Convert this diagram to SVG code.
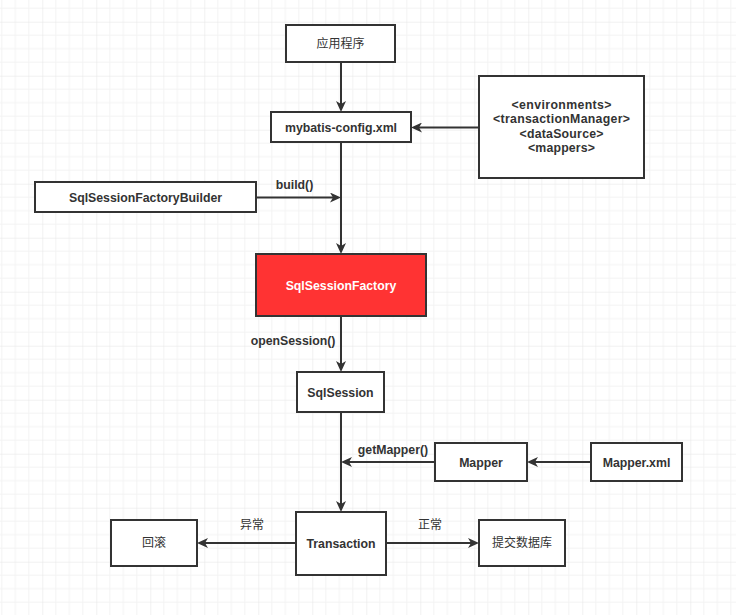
<svg xmlns="http://www.w3.org/2000/svg" width="736" height="615" viewBox="0 0 736 615">
<defs>
<pattern id="grid" patternUnits="userSpaceOnUse" x="42.3" y="21.7" width="54" height="54">
<path d="M13.5,0V54M27,0V54M40.5,0V54M0,13.5H54M0,27H54M0,40.5H54" stroke="#f3f3f3" stroke-width="1" fill="none"/>
<path d="M0,0V54M0,0H54" stroke="#e4e4e4" stroke-width="1" fill="none"/>
</pattern>
<marker id="arr" viewBox="0 0 11 10" refX="8" refY="5" markerWidth="11" markerHeight="10" markerUnits="userSpaceOnUse" orient="auto">
<path d="M0,0 L11,5 L0,10 L3,5 Z" fill="#333"/>
</marker>
</defs>
<style>
.n rect{fill:#fff;stroke:#333;stroke-width:2}
.t{font-family:"Liberation Sans","Noto Sans CJK SC",sans-serif;font-size:12.3px;font-weight:bold;fill:#333;text-anchor:middle}
.c{font-family:"Noto Sans CJK SC","Liberation Sans",sans-serif;font-size:12px;font-weight:normal;fill:#333;text-anchor:middle}
.e path{fill:none;stroke:#333;stroke-width:2;marker-end:url(#arr)}
</style>
<rect width="736" height="615" fill="#fff"/>
<rect width="736" height="615" fill="url(#grid)"/>
<g class="e" id="connectors">
<path d="M341,62V109"/>
<path d="M479,127.5H414"/>
<path d="M341,142V251"/>
<path d="M256,197.5H338"/>
<path d="M341,316V369"/>
<path d="M341,412V509"/>
<path d="M435,462H344"/>
<path d="M591,462H530"/>
<path d="M296,543H200"/>
<path d="M386,543H476"/>
<text class="t" x="294.5" y="189">build()</text>
<text class="t" x="293" y="345">openSession()</text>
<text class="t" x="393" y="454">getMapper()</text>
<text class="c" x="252" y="529">异常</text>
<text class="c" x="430" y="529">正常</text>
</g>
<g class="n" id="app"><rect x="286" y="25" width="109" height="37"/><text class="c" x="340.5" y="47.5">应用程序</text></g>
<g class="n" id="config"><rect x="271" y="112" width="140" height="30"/><text class="t" x="341" y="131.5">mybatis-config.xml</text></g>
<g class="n" id="envs"><rect x="479" y="76" width="165" height="102"/>
<text class="t" x="561.5" y="108.5" textLength="100" lengthAdjust="spacing">&lt;environments&gt;</text>
<text class="t" x="561.5" y="123" textLength="137" lengthAdjust="spacing">&lt;transactionManager&gt;</text>
<text class="t" x="561.5" y="137.5" textLength="84" lengthAdjust="spacing">&lt;dataSource&gt;</text>
<text class="t" x="561.5" y="151.5" textLength="67" lengthAdjust="spacing">&lt;mappers&gt;</text></g>
<g class="n" id="builder"><rect x="35" y="182" width="221" height="30"/><text class="t" x="145.5" y="201.5">SqlSessionFactoryBuilder</text></g>
<g class="n" id="factory"><rect x="256" y="254" width="170" height="62" style="fill:#ff3333"/><text class="t" x="341" y="289.5" style="fill:#fff">SqlSessionFactory</text></g>
<g class="n" id="session"><rect x="297" y="372" width="87" height="40"/><text class="t" x="340.5" y="396.5">SqlSession</text></g>
<g class="n" id="mapper"><rect x="435" y="443" width="92" height="38"/><text class="t" x="481" y="466.5">Mapper</text></g>
<g class="n" id="mapperxml"><rect x="591" y="443" width="91" height="38"/><text class="t" x="636.5" y="466.5">Mapper.xml</text></g>
<g class="n" id="transaction"><rect x="296" y="512" width="90" height="63"/><text class="t" x="341" y="547.5">Transaction</text></g>
<g class="n" id="rollback"><rect x="111" y="520" width="86" height="46"/><text class="c" x="154" y="547">回滚</text></g>
<g class="n" id="commit"><rect x="479" y="520" width="86" height="46"/><text class="c" x="522" y="547">提交数据库</text></g>
</svg>
